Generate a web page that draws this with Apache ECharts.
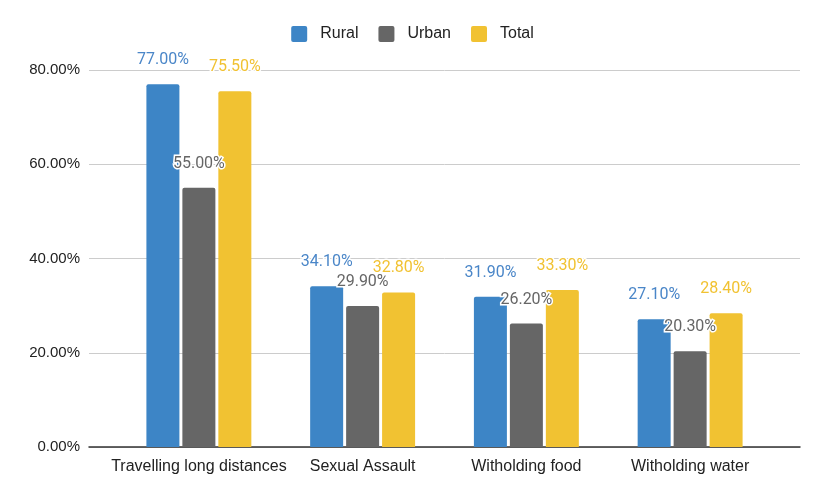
<!DOCTYPE html>
<html><head><meta charset="utf-8">
<script src="https://cdn.jsdelivr.net/npm/echarts@6/dist/echarts.min.js"></script>
<style>html,body{margin:0;padding:0;background:#fff}#c{width:825px;height:500px}</style>
</head><body><div id="c"></div>
<script>
const categories = ['Travelling long distances', 'Sexual Assault', 'Witholding food', 'Witholding water'];
const rural = [77.0, 34.1, 31.9, 27.1];
const urban = [55.0, 29.9, 26.2, 20.3];
const total = [75.5, 32.8, 33.3, 28.4];
const seriesNames = ['Rural', 'Urban', 'Total'];
const barColors = ['#3d85c6', '#666666', '#f1c232'];
const labelColors = ['#4a86c8', '#666666', '#f1c232'];

const chart = echarts.init(document.getElementById('c'));
const font = 'Roboto, Arial, sans-serif';
const afont = '"Liberation Sans", Arial, sans-serif';
function mk(i, data) {
  return {
    name: seriesNames[i], type: 'bar', xAxisIndex: 1, yAxisIndex: 1,
    data: data, barWidth: 33, barGap: '9%',
    itemStyle: { color: barColors[i], borderRadius: [2, 2, 0, 0] },
    label: {
      show: true, position: 'top', distance: 16,
      formatter: p => p.value.toFixed(2) + '%',
      color: labelColors[i], fontSize: 16, fontFamily: font,
      textBorderColor: '#fff', textBorderWidth: 3
    }
  };
}
chart.setOption({
  animation: false,
  legend: {
    top: 21, left: 'center', itemWidth: 16, itemHeight: 16, itemGap: 20,
    icon: 'path://M2,0 L14,0 Q16,0 16,2 L16,14 Q16,16 14,16 L2,16 Q0,16 0,14 L0,2 Q0,0 2,0 Z',
    textStyle: { fontSize: 16, fontFamily: afont, color: '#222', padding: [0, 0, 0, 8] },
    data: seriesNames
  },
  grid: [
    { left: 89, right: 25, top: 70, bottom: 53 },
    { left: 117, right: 53, top: 70, bottom: 53 }
  ],
  xAxis: [
    { type: 'value', gridIndex: 0, min: 0, max: 1, axisLabel: { show: false }, axisTick: { show: false }, splitLine: { show: false },
      axisLine: { show: true, lineStyle: { color: '#333', width: 1.5 } } },
    { type: 'category', gridIndex: 1, data: categories, axisLine: { show: false }, axisTick: { show: false },
      axisLabel: { interval: 0, fontSize: 16, fontFamily: afont, color: '#222', margin: 12 } }
  ],
  yAxis: [
    { type: 'value', gridIndex: 0, min: 0, max: 80, interval: 20,
      axisLine: { show: false }, axisTick: { show: false },
      axisLabel: { formatter: v => v.toFixed(2) + '%', fontSize: 15, fontFamily: afont, color: '#222', margin: 9 },
      splitLine: { lineStyle: { color: '#cccccc', width: 1 } } },
    { type: 'value', gridIndex: 1, min: 0, max: 80, interval: 20, show: false, splitLine: { show: false } }
  ],
  series: [mk(0, rural), mk(1, urban), mk(2, total)]
});
</script></body></html>
